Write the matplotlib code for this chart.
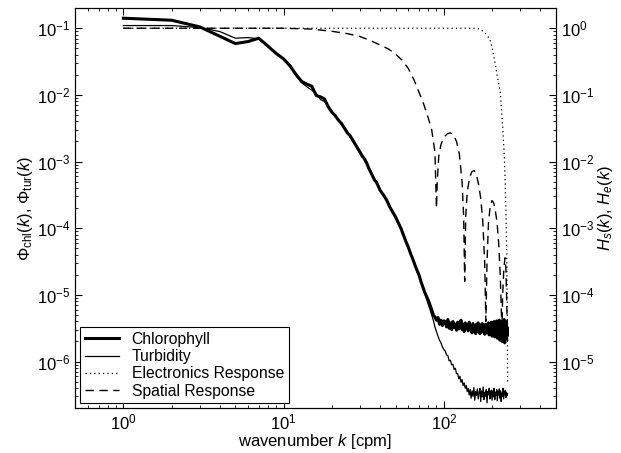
# spectra_response.py
import numpy as np
import matplotlib
matplotlib.use("Agg")
import matplotlib.pyplot as plt

plt.rcParams["font.family"] = ["Liberation Sans", "DejaVu Sans"]
plt.rcParams["mathtext.fontset"] = "custom"
plt.rcParams["mathtext.rm"] = "Liberation Sans"
plt.rcParams["mathtext.it"] = "Liberation Sans:italic"
plt.rcParams["mathtext.sf"] = "Liberation Sans"
plt.rcParams["font.size"] = 12

# wavenumber grid of the spectra [cpm]: every harmonic to 40, every second one after
k_spec = np.concatenate([np.arange(1, 41), np.arange(42, 251, 2)])

# log10 of the spectra
chl_log = [
    -0.85, -0.88, -0.98, -1.12, -1.23, -1.20, -1.15, -1.27, -1.38, -1.46,
    -1.57, -1.70, -1.80, -1.84, -1.87, -2.01, -2.03, -2.06, -2.18, -2.26,
    -2.31, -2.38, -2.43, -2.50, -2.57, -2.61, -2.68, -2.74, -2.80, -2.86,
    -2.92, -2.96, -3.02, -3.10, -3.16, -3.22, -3.28, -3.31, -3.37, -3.43,
    # 42 .. 100
    -3.50, -3.58, -3.68, -3.76, -3.83, -3.92, -4.00, -4.10, -4.20, -4.28,
    -4.38, -4.46, -4.55, -4.63, -4.70, -4.80, -4.88, -4.96, -5.02, -5.08,
    -5.15, -5.22, -5.30, -5.33, -5.38, -5.34, -5.44, -5.38, -5.46, -5.39,
    # 102 .. 250
    -5.40, -5.48, -5.37, -5.50, -5.42, -5.52, -5.40, -5.49, -5.44, -5.53,
    -5.41, -5.51, -5.46, -5.38, -5.52, -5.44, -5.55, -5.42, -5.50, -5.45,
    -5.54, -5.41, -5.52, -5.47, -5.57, -5.43, -5.53, -5.46, -5.58, -5.44,
    -5.55, -5.42, -5.51, -5.58, -5.45, -5.56, -5.43, -5.54, -5.48, -5.59,
    -5.44, -5.57, -5.47, -5.53, -5.42, -5.60, -5.45, -5.56, -5.41, -5.62,
    -5.46, -5.57, -5.40, -5.63, -5.44, -5.58, -5.39, -5.65, -5.43, -5.60,
    -5.38, -5.68, -5.44, -5.62, -5.40, -5.70, -5.42, -5.64, -5.37, -5.72,
    -5.45, -5.66, -5.40, -5.62, -5.50,
]

tur_log = [
    -0.96, -0.96, -0.99, -1.05, -1.15, -1.14, -1.16, -1.27, -1.37, -1.45,
    -1.55, -1.72, -1.82, -1.88, -1.93, -1.98, -2.07, -2.10, -2.16, -2.24,
    -2.33, -2.36, -2.45, -2.48, -2.55, -2.63, -2.66, -2.72, -2.82, -2.84,
    -2.90, -2.99, -3.04, -3.08, -3.14, -3.24, -3.26, -3.33, -3.35, -3.42,
    # 42 .. 100
    -3.52, -3.56, -3.70, -3.74, -3.85, -3.90, -4.02, -4.08, -4.22, -4.30,
    -4.36, -4.48, -4.53, -4.65, -4.72, -4.78, -4.90, -4.98, -5.06, -5.14,
    -5.22, -5.30, -5.38, -5.48, -5.55, -5.62, -5.68, -5.72, -5.78, -5.82,
    # 102 .. 250
    -5.84, -5.90, -5.91, -5.99, -5.98, -6.05, -6.04, -6.12, -6.10, -6.18,
    -6.18, -6.26, -6.22, -6.31, -6.27, -6.36, -6.32, -6.40, -6.36, -6.45,
    -6.40, -6.50, -6.42, -6.55, -6.44, -6.52, -6.39, -6.58, -6.45, -6.51,
    -6.41, -6.56, -6.47, -6.40, -6.60, -6.44, -6.53, -6.38, -6.57, -6.46,
    -6.52, -6.42, -6.62, -6.45, -6.50, -6.40, -6.56, -6.47, -6.43, -6.58,
    -6.44, -6.53, -6.40, -6.57, -6.46, -6.51, -6.42, -6.59, -6.45, -6.50,
    -6.41, -6.55, -6.44, -6.60, -6.47, -6.52, -6.40, -6.56, -6.45, -6.50,
    -6.43, -6.54, -6.46, -6.51, -6.48,
]

# electronics response H_e(k)
k_elec = [1, 150, 165, 176, 185, 194, 200, 207, 215, 225, 233, 239, 244, 247, 249, 250]
h_elec = [1.0, 1.0, 0.98, 0.9, 0.8, 0.68, 0.52, 0.34, 0.2, 0.11, 0.034, 0.011,
          0.002, 4e-4, 6e-5, 5e-6]

# spatial response H_s(k)
k_spat = [1, 5, 10, 15, 20, 25, 30, 35, 40, 45, 50, 55, 60, 65, 70, 75, 80, 84, 88, 90,
          91, 93, 96, 100, 105, 110, 115, 120, 125, 130, 133, 135,
          137, 140, 145, 150, 155, 160, 165, 170, 175, 180, 183,
          186, 190, 195, 200, 205, 210, 215, 220, 225, 229, 231,
          233, 237, 241, 244, 247, 250]
h_spat = [1.0, 1.0, 1.0, 0.97, 0.90, 0.83, 0.75, 0.65, 0.56, 0.49, 0.41, 0.33, 0.25,
          0.17, 0.11, 0.072, 0.045, 0.03, 0.014, 0.002,
          0.005, 0.012, 0.018, 0.023, 0.026, 0.027, 0.025, 0.02, 0.013, 0.005, 0.0015, 1.6e-4,
          0.0015, 0.0035, 0.0058, 0.0071, 0.0073, 0.0062, 0.0045, 0.0028, 0.0013, 3e-4, 4e-5,
          3e-4, 0.0012, 0.0022, 0.0026, 0.0024, 0.0018, 0.0012, 6e-4, 2e-4, 5e-5, 4e-5,
          1e-4, 2.5e-4, 3.6e-4, 2.5e-4, 8e-5, 2e-5]

fig = plt.figure(figsize=(6.21, 4.53), dpi=100)
ax = fig.add_axes([0.121, 0.099, 0.774, 0.883])
ax2 = ax.twinx()

ax.plot(k_spec, 10 ** np.array(chl_log), color="black", lw=2.2, label="Chlorophyll")
ax.plot(k_spec, 10 ** np.array(tur_log), color="black", lw=0.9, label="Turbidity")
ax2.plot(k_elec, h_elec, color="black", lw=0.9, ls=(0, (1, 2.5)))
ax2.plot(k_spat, h_spat, color="black", lw=1.0, ls=(0, (6, 4)))

# legend entries for the response curves live on ax
ax.plot([], [], color="black", lw=0.9, ls=(0, (1, 2.5)), label="Electronics Response")
ax.plot([], [], color="black", lw=1.0, ls=(0, (6, 4)), label="Spatial Response")

ax.set_xscale("log")
ax.set_yscale("log")
ax2.set_yscale("log")
ax.set_xlim(0.5, 500)
ax.set_ylim(2e-7, 0.2)
ax2.set_ylim(2e-6, 2)

ax.set_xlabel("wavenumber $k$ [cpm]", labelpad=0)
ax.set_ylabel(r"$\Phi_{\rm chl}(k)$, $\Phi_{\rm tur}(k)$", labelpad=1)
ax2.set_ylabel(r"$H_s(k)$, $H_e(k)$", labelpad=1)

ax.tick_params(which="both", direction="in", top=True, right=False)
ax.tick_params(which="major", length=5)
ax.tick_params(which="minor", length=2.5)
ax.tick_params(axis="x", pad=3)
ax2.tick_params(which="both", direction="in")
ax2.tick_params(which="major", length=5)
ax2.tick_params(which="minor", length=2.5)

leg = ax.legend(loc="lower left", frameon=True, fancybox=False, edgecolor="black",
                fontsize=11.3, borderaxespad=0.3, handlelength=2.2,
                labelspacing=0.15, borderpad=0.3)
leg.get_frame().set_linewidth(0.8)
leg.get_frame().set_alpha(1)

fig.savefig("out.png", dpi=100)
